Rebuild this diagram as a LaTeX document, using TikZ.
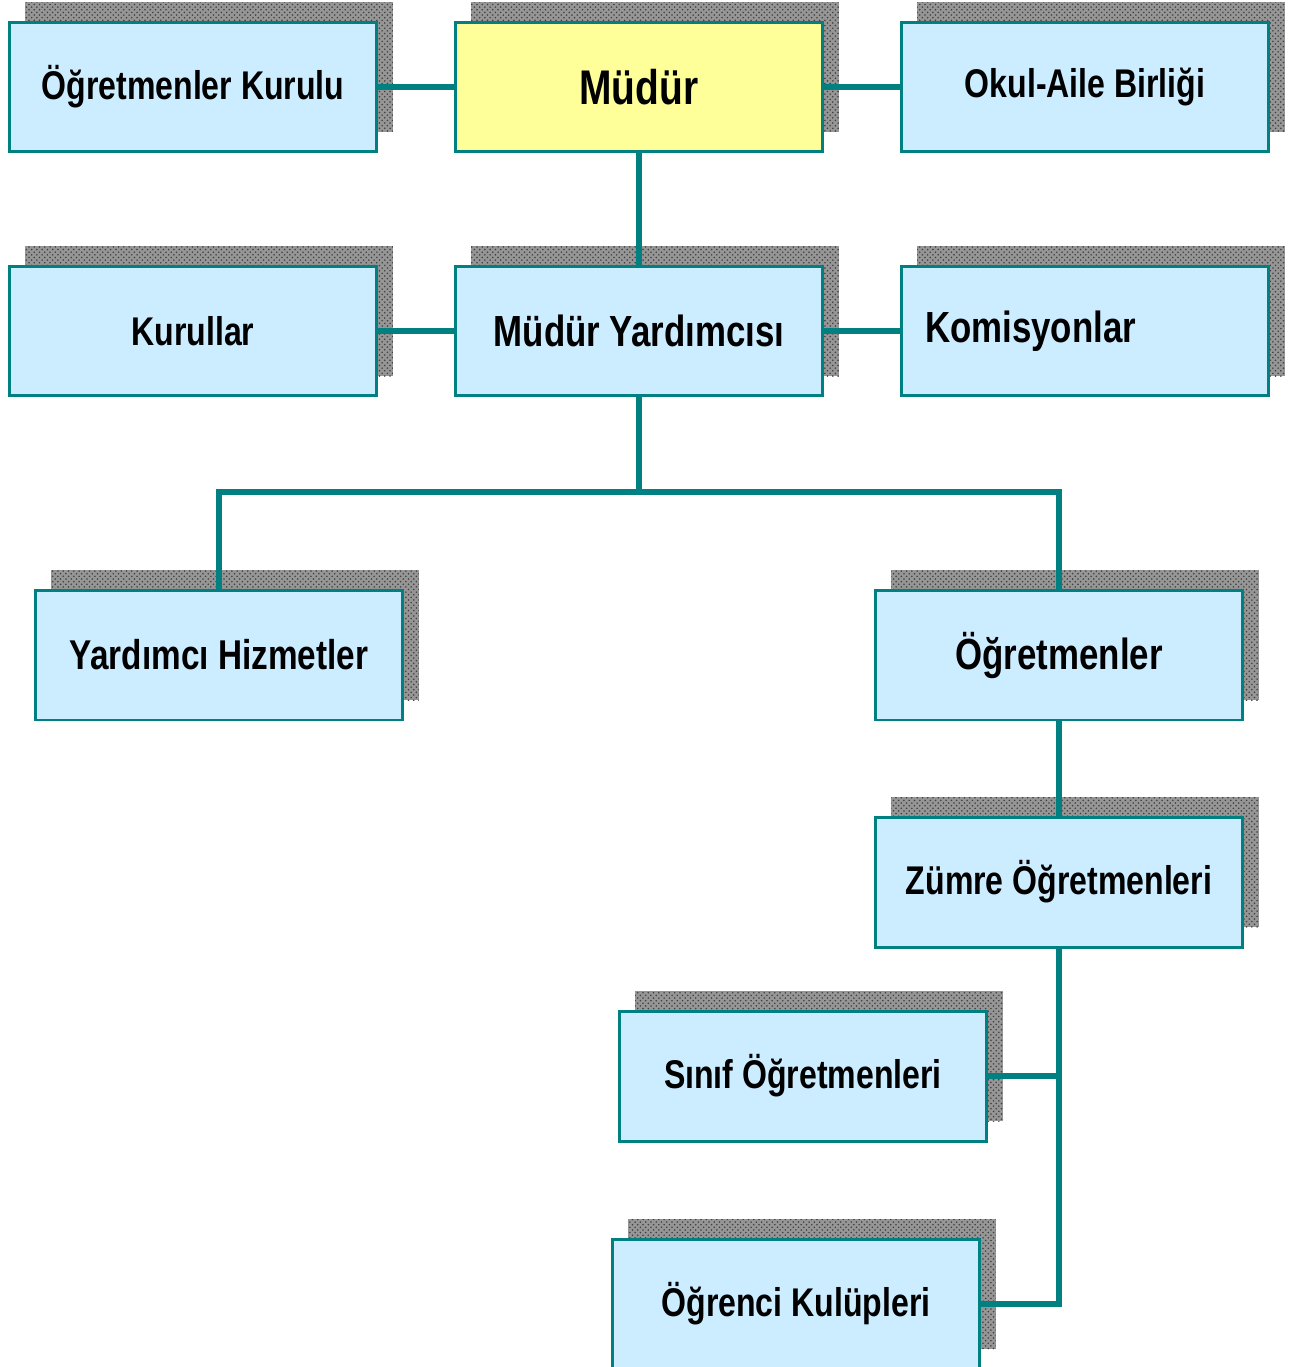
\documentclass[tikz,border=0pt]{standalone}
\usepackage{fontspec}
\setmainfont{Liberation Sans}
\newfontfamily\condfont{Liberation Sans}[FakeStretch=0.8]
\usetikzlibrary{shadows,patterns}
\definecolor{teal1}{RGB}{0,128,128}
\definecolor{boxblue}{RGB}{204,236,255}
\definecolor{boxyellow}{RGB}{255,255,153}
\definecolor{shadowgray}{RGB}{150,150,150}
\tikzset{
  orgbox/.style={draw=teal1, line width=0.06cm, fill=boxblue, rectangle,
    minimum width=7.36cm, minimum height=2.6cm, inner sep=0pt,
    font=\condfont\bfseries\fontsize{22.8}{24}\selectfont,
    drop shadow={shadow xshift=0.32cm, shadow yshift=0.4cm, opacity=1, fill=shadowgray},
    drop shadow={shadow xshift=0.32cm, shadow yshift=0.4cm, opacity=1, pattern=crosshatch dots, pattern color=black!75}},
  bigtext/.style={font=\condfont\bfseries\fontsize{24.8}{26}\selectfont},
  link/.style={draw=teal1, line width=0.12cm}
}
\begin{document}
\begin{tikzpicture}[x=0.02cm, y=-0.02cm]
\useasboundingbox (0,0) rectangle (1298,1367);
\node[orgbox] (ok) at (193,87) {Öğretmenler Kurulu};
\node[orgbox, fill=boxyellow, font=\condfont\bfseries\fontsize{27.7}{29}\selectfont] (md) at (639,87) {Müdür};
\node[orgbox] (oa) at (1085,87) {Okul-Aile Birliği};
\node[orgbox] (ku) at (193,331) {Kurullar};
\node[orgbox, bigtext] (my) at (639,331) {Müdür Yardımcısı};
\node[orgbox, bigtext, align=left, text width=6.4cm] (ko) at (1085,331) {Komisyonlar};
\node[orgbox, font=\condfont\bfseries\fontsize{23.7}{25}\selectfont] (yh) at (219,655) {Yardımcı Hizmetler};
\node[orgbox, bigtext] (og) at (1059,655) {Öğretmenler};
\node[orgbox] (zo) at (1059,882) {Zümre Öğretmenleri};
\node[orgbox] (so) at (803,1076) {Sınıf Öğretmenleri};
\node[orgbox] (ock) at (796,1304) {Öğrenci Kulüpleri};
\coordinate (j) at (639,492);
\draw[link] (ok.east) -- (md.west);
\draw[link] (md.east) -- (oa.west);
\draw[link] (md.south) -- (my.north);
\draw[link] (ku.east) -- (my.west);
\draw[link] (my.east) -- (ko.west);
\draw[link] (my.south) -- (j);
\draw[link] (yh.north) |- (j) -| (og.north);
\draw[link] (og.south) -- (zo.north);
\draw[link] (zo.south) |- (ock.east);
\draw[link] (so.east) -- (so.east -| zo.south);
\end{tikzpicture}
\end{document}
